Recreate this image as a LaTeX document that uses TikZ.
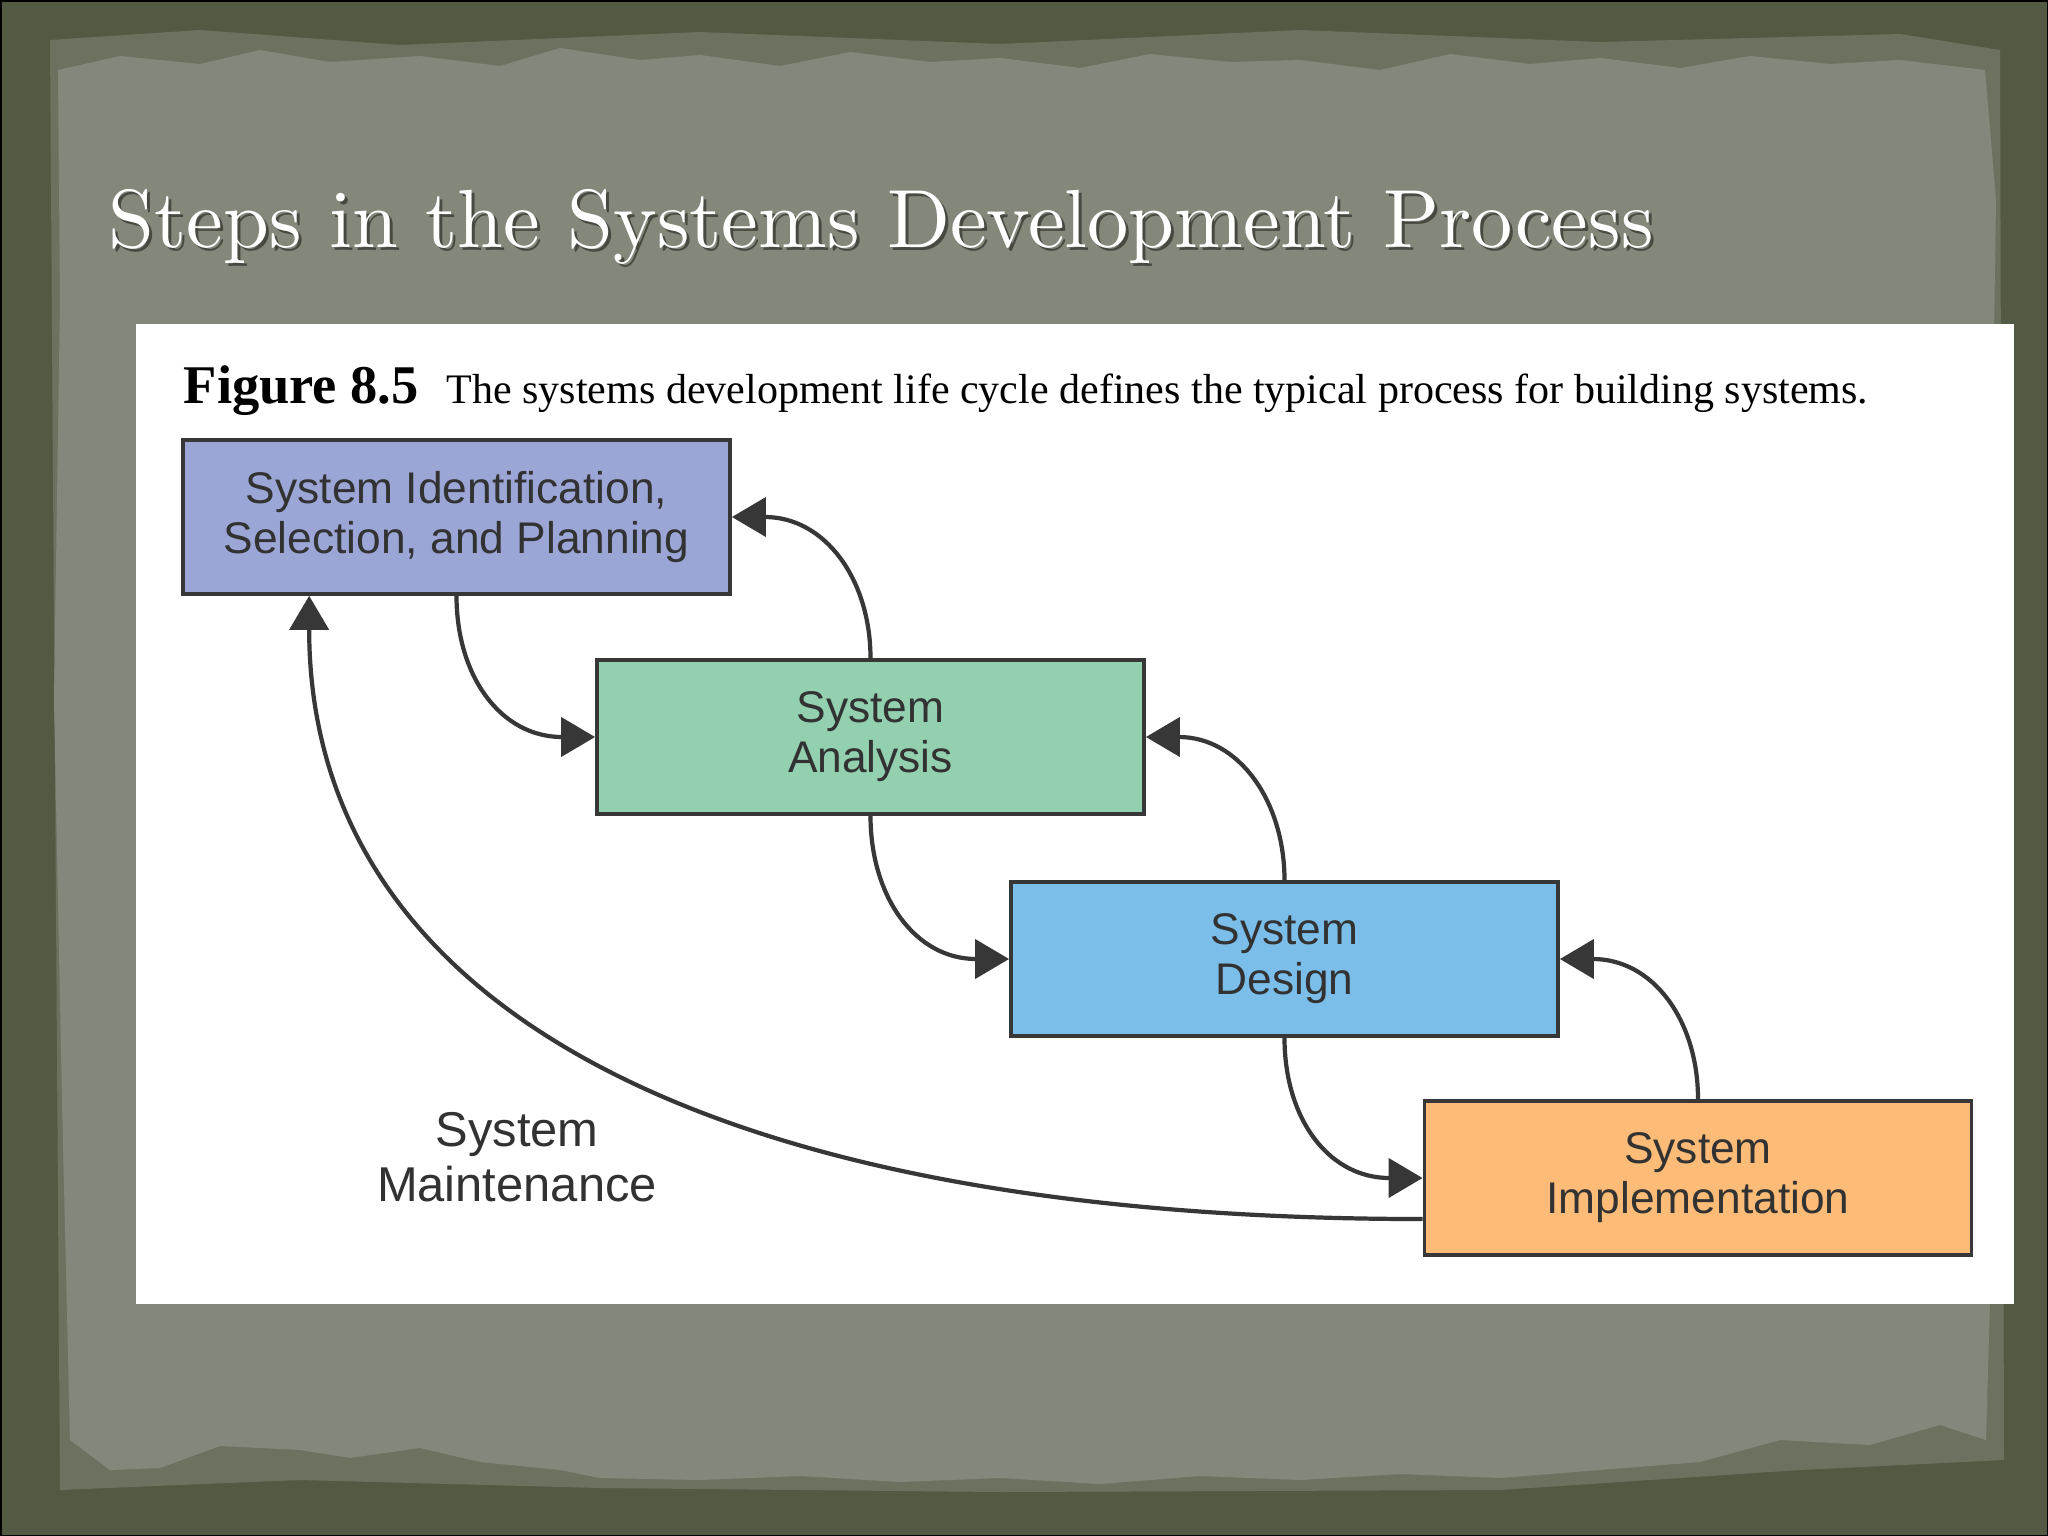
\documentclass[tikz,border=0pt]{standalone}
\usepackage{fontspec}
\newfontfamily\boxfont{Liberation Sans}
\newfontfamily\capfont{Liberation Serif}
\usetikzlibrary{arrows.meta}
\definecolor{outerbg}{RGB}{82,90,68}
\definecolor{parch}{RGB}{132,136,122}
\definecolor{parchdark}{RGB}{108,114,96}
\definecolor{cA}{RGB}{155,166,214}
\definecolor{cB}{RGB}{146,208,176}
\definecolor{cC}{RGB}{124,190,234}
\definecolor{cD}{RGB}{252,188,120}
\definecolor{edge}{RGB}{55,55,55}
\definecolor{ink}{RGB}{50,50,50}
\tikzset{
  stage/.style={draw=edge, line width=1pt, minimum width=5.47cm, minimum height=1.54cm,
    inner sep=0pt, align=center, text=ink,
    font=\boxfont\fontsize{12.6}{14.2}\selectfont},
  conn/.style={draw=edge, line width=1.2pt, -{Triangle[length=0.34cm,width=0.39cm]}},
}
\begin{document}
\begin{tikzpicture}[x=0.01cm,y=-0.01cm]
\useasboundingbox (0,0) rectangle (2048,1536);
% background
\fill[outerbg] (0,0) rectangle (2048,1536);
\fill[parchdark] (50,40) -- (200,30) -- (400,45) -- (700,32) -- (1000,44) -- (1300,30) -- (1600,42) -- (1900,34) -- (2000,50)
  -- (2004,1460) -- (1800,1470) -- (1500,1490) -- (1000,1492) -- (600,1488) -- (300,1480) -- (60,1490) -- cycle;
\fill[parch] (58,70) -- (120,56) -- (200,64) -- (260,50) -- (330,62) -- (420,56) -- (500,66) -- (560,48) -- (640,60)
  -- (700,55) -- (780,66) -- (850,52) -- (930,62) -- (1000,58) -- (1080,68) -- (1150,54) -- (1230,62) -- (1300,60)
  -- (1380,70) -- (1450,54) -- (1530,64) -- (1600,58) -- (1680,68) -- (1750,56) -- (1830,64) -- (1900,60) -- (1985,70)
  -- (1996,200) -- (1990,600) -- (1997,1000) -- (1990,1300) -- (1986,1440)
  -- (1940,1425) -- (1870,1445) -- (1780,1440) -- (1700,1462) -- (1600,1470) -- (1500,1478) -- (1400,1474)
  -- (1300,1480) -- (1200,1476) -- (1100,1484) -- (1000,1478) -- (900,1482) -- (800,1476) -- (700,1480)
  -- (600,1478) -- (560,1470) -- (480,1462) -- (420,1448) -- (350,1458) -- (300,1450) -- (220,1446)
  -- (160,1468) -- (110,1470) -- (70,1440) -- (62,1100) -- (54,700) -- (60,300) -- cycle;
\draw[black, line width=0.03cm] (0,0) rectangle (2048,1536);
% title
\node[anchor=base west, inner sep=0pt, text=black, opacity=0.45] (tshadow) at (111,250)
  {\resizebox{15.44cm}{!}{Steps in the Systems Development Process}};
\node[anchor=base west, inner sep=0pt, text=white] (title) at (108,247)
  {\resizebox{15.44cm}{!}{Steps in the Systems Development Process}};
% white panel
\fill[white] (136,324) rectangle (2014,1304);
% caption
\node[anchor=base west, inner sep=0pt] (cap1) at (183,403)
  {\capfont\fontsize{15.5}{18}\selectfont\bfseries Figure 8.5};
\node[anchor=base west, inner sep=0pt] (cap2) at (446,403)
  {\capfont\fontsize{11.95}{14}\selectfont The systems development life cycle defines the typical process for building systems.};
% stages
\node[stage, fill=cA] (b1) at (456.5,517) {System Identification,\\Selection, and Planning};
\node[stage, fill=cB] (b2) at (870.5,737) {System\\Analysis};
\node[stage, fill=cC] (b3) at (1284.5,959) {System\\Design};
\node[stage, fill=cD] (b4) at (1698,1178) {System\\Implementation};
\node[align=center, text=ink, font=\boxfont\fontsize{13.9}{15.6}\selectfont] (maint) at (517,1157) {System\\Maintenance};
% connectors
\draw[conn] (b1.south) .. controls +(0,81) and +(-94,0) .. (b2.west);
\draw[conn] (b2.north) .. controls +(0,-79) and +(93,0) .. (b1.east);
\draw[conn] (b2.south) .. controls +(0,81) and +(-94,0) .. (b3.west);
\draw[conn] (b3.north) .. controls +(0,-79) and +(93,0) .. (b2.east);
\draw[conn] (b3.south) .. controls +(0,81) and +(-94,0) .. (b4.west);
\draw[conn] (b4.north) .. controls +(0,-79) and +(93,0) .. (b3.east);
\draw[conn] ([yshift=-0.41cm]b4.west) .. controls +(-724,0) and +(0,406) .. ([xshift=1.28cm]b1.south west);
\end{tikzpicture}
\end{document}
